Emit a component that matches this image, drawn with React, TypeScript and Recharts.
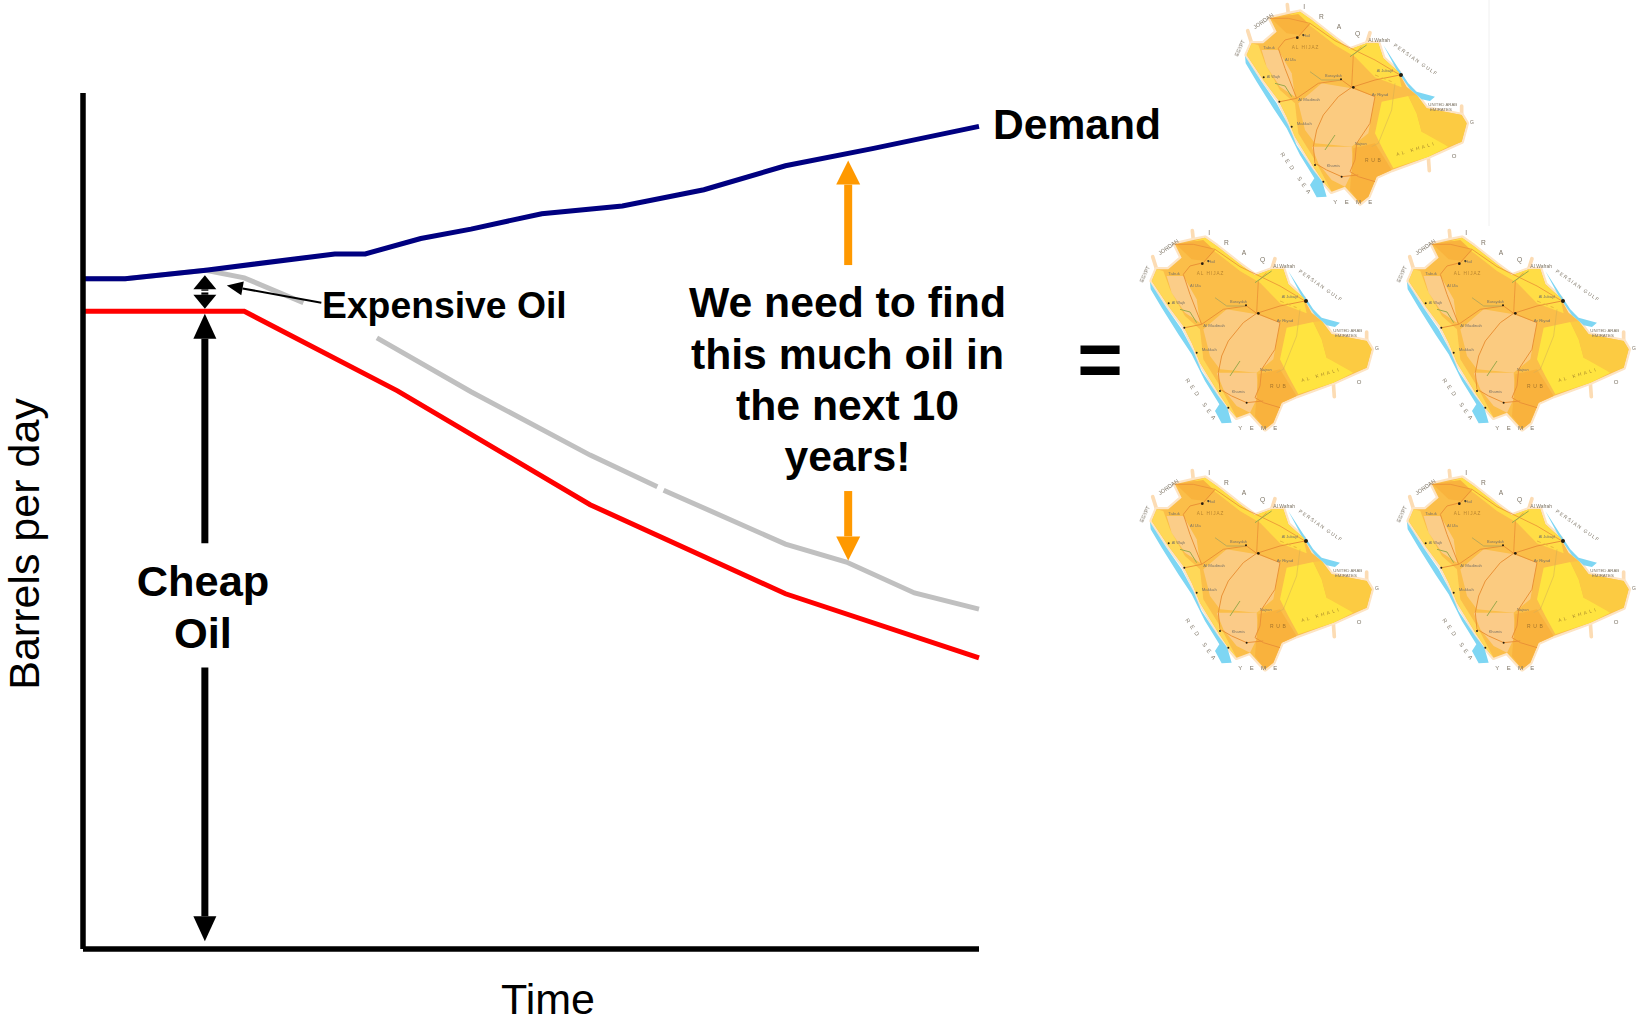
import { LineChart, Line, XAxis, YAxis, ReferenceLine } from 'recharts';

const demandTime = [0, 4.7, 13.7, 28.1, 31.5, 37.7, 43.3, 51.2, 60.2, 69.3, 78.4, 88.1, 100];
const demandValues = [78.3, 78.3, 79.3, 81.2, 81.2, 83, 84.1, 85.9, 86.8, 88.7, 91.5, 93.5, 96.1];

const cheapTime = [0, 18, 35.1, 56.6, 78.4, 100];
const cheapValues = [74.5, 74.5, 65.2, 51.9, 41.5, 34];

// null = the places where the grey line is broken in the original slide
const totalTime = [0, 4.7, 13.7, 18, 24.6, 28, 32.8, 43.3, 56.6, 64.1, 64.4, 64.8, 78.4, 85.2, 92.8, 100];
const totalValues = [78.3, 78.3, 79.3, 78.4, 75.5, null, 71.4, 65.1, 57.7, 54, null, 53.6, 47.3, 45.2, 41.6, 39.7];

const toRows = (time: number[], values: (number | null)[]) => time.map((t, i) => ({ time: t, value: values[i] }));

const questionLines = ['We need to find', 'this much oil in', 'the next 10', 'years!'];
const questionBaselines = [317, 369, 420, 471];
const mapOffsets = [[0, 0], [-95, 226], [162, 226], [-95, 466], [162, 466]];

const FONT = '"Liberation Sans", Arial, sans-serif';

const Arrow = ({ x1, y1, x2, y2, w, headW, headL, color }: any) => {
  const len = Math.hypot(x2 - x1, y2 - y1);
  const ux = (x2 - x1) / len;
  const uy = (y2 - y1) / len;
  const bx = x2 - ux * headL;
  const by = y2 - uy * headL;
  return (
    <g>
      <line x1={x1} y1={y1} x2={bx} y2={by} stroke={color} strokeWidth={w} />
      <polygon
        fill={color}
        points={`${x2},${y2} ${bx - (uy * headW) / 2},${by + (ux * headW) / 2} ${bx + (uy * headW) / 2},${by - (ux * headW) / 2}`}
      />
    </g>
  );
};

const arrow = (t1: number, v1: number, t2: number, v2: number, color: string, w: number, headW: number, headL: number) => (
  <ReferenceLine
    segment={[{ x: t1, y: v1 }, { x: t2, y: v2 }]}
    shape={(p: any) => <Arrow {...p} color={color} w={w} headW={headW} headL={headL} />}
  />
);

const LAND =
  'M105 55 L160 42 L195 35 L230 60 L300 115 L345 148 L395 130 L430 130 L445 175 L490 215 L515 260 L545 285 L575 325 L680 345 L695 370 L680 425 L580 470 L470 510 L425 530 L400 590 L375 610 L330 560 L290 575 L265 545 L235 500 L180 410 L155 350 L130 300 L85 240 L35 165 L50 130 L85 130 L125 95 Z';

// hand traced outline of the map picture, drawn three times smaller
const MapPicture = ({ dx, dy }: { dx: number; dy: number }) => (
  <g transform={`translate(${1235 + dx} ${dy}) scale(0.3333)`} filter="url(#mapSoft)">
    <path d="M50 130 L38 92 M160 42 L157 14 M395 130 L405 98 M680 345 L680 318 M580 470 L583 512" stroke="#fcdcb4" strokeWidth={11} fill="none" strokeLinecap="round" />
    <path d={LAND} fill="none" stroke="#fde4c4" strokeWidth={14} strokeLinejoin="round" />
    <path d="M30 168 L80 245 L125 310 L160 375 L185 435 L235 510 L262 545 L275 590 L245 592 L225 555 L238 535 L195 465 L155 385 L115 325 L65 245 L32 190 Z" fill="#7ed6f3" />
    <path d="M445 135 L490 205 L520 250 L545 275 L600 290 L585 303 L560 298 L525 268 L485 210 Z" fill="#7ed6f3" />
    <path d={LAND} fill="#fbbe48" />
    <path d="M195 35 L230 60 L300 115 L345 148 L395 130 L430 130 L445 175 L490 215 L500 262 L420 232 L360 170 L300 135 L230 80 L165 44 Z" fill="#ffdd45" />
    <path d="M35 165 L50 130 L70 135 L90 190 L135 270 L180 310 L190 400 L240 480 L290 575 L265 545 L235 500 L180 410 L155 350 L130 300 L85 240 Z" fill="#ffd858" />
    <path d="M440 305 L520 288 L545 340 L560 395 L610 415 L640 440 L580 470 L475 505 L445 450 L420 400 Z" fill="#ffe440" />
    <path d="M520 288 L545 285 L575 325 L680 345 L695 370 L680 425 L640 440 L560 395 L545 340 Z" fill="#fccb42" />
    <path d="M190 310 L260 250 L350 265 L420 290 L400 400 L350 440 L240 430 L210 390 Z" fill="#fbcb80" />
    <path d="M80 150 L130 150 L170 220 L180 290 L135 260 L95 200 Z" fill="#fbcd88" />
    <path d="M230 440 L350 440 L355 510 L330 560 L290 540 L250 490 Z" fill="#fbcb88" />
    <path d="M355 445 L420 430 L470 510 L425 530 L400 590 L375 610 L345 570 Z" fill="#f9b23e" />
    <path d="M108 55 L190 42 L225 75 L195 105 L155 100 Z" fill="#f9b33e" />
    <g fill="none" stroke="#ea9236" strokeWidth={3}>
      <path d="M105 55 L160 55 L225 70 L300 122 L420 180 L495 225" strokeWidth={2.5} />
      <path d="M225 70 L190 110 L150 120 L130 145 L150 205 L185 295 L135 305" />
      <path d="M185 295 L250 250 L320 240 L350 262 L420 240 L495 225" />
      <path d="M350 262 L310 290 L265 345 L245 390 L235 440 L240 490 L275 510 L320 530 L370 525" />
      <path d="M350 262 L420 290 L405 370 L365 430 L360 480 L345 515 L370 530 L420 545" />
      <path d="M380 140 L355 165 L350 262" strokeWidth={2.5} />
      <path d="M480 250 L470 330 L430 430 L410 440" stroke="#d2ac55" strokeWidth={1.5} />
      <path d="M120 250 L150 258 L170 290" stroke="#9aa94a" strokeWidth={3} />
      <path d="M225 215 L260 240 L315 240" stroke="#bca958" strokeWidth={3} />
      <path d="M300 405 L270 450" stroke="#9aa94a" strokeWidth={3} />
      <path d="M395 135 L345 170" stroke="#9aa94a" strokeWidth={3} />
      <path d="M420 225 L470 245" stroke="#e8b43a" strokeDasharray="12 10" />
    </g>
    <g fill="#201a10">
      <circle cx={187} cy={113} r={4} />
      <circle cx={205} cy={105} r={3} />
      <circle cx={355} cy={262} r={4} />
      <circle cx={318} cy={238} r={3} />
      <circle cx={498} cy={225} r={6} />
      <circle cx={133} cy={305} r={3} />
      <circle cx={86} cy={232} r={3} />
      <circle cx={170} cy={380} r={3} />
      <circle cx={240} cy={495} r={3} />
      <circle cx={320} cy={530} r={3} />
      <circle cx={265} cy={545} r={3} />
    </g>
    <g fill="#7d7465" fontFamily={FONT} fontSize={15}>
      <text x={60} y={88} transform="rotate(-35 60 88)" fontSize={17}>JORDAN</text>
      <text x={10} y={170} transform="rotate(-65 10 170)">EGYPT</text>
      <text x={205} y={28} fontSize={20}>I</text>
      <text x={252} y={58} fontSize={20}>R</text>
      <text x={305} y={88} fontSize={20}>A</text>
      <text x={360} y={108} fontSize={20}>Q</text>
      <text x={400} y={126}>Al Wafrah</text>
      <text x={475} y={138} transform="rotate(35 475 138)" letterSpacing={4}>PERSIAN GULF</text>
      <text x={580} y={318} fontSize={13}>UNITED ARAB</text>
      <text x={585} y={334} fontSize={13}>EMIRATES</text>
      <text x={135} y={462} transform="rotate(55 135 462)" fontSize={17} letterSpacing={12}>RED SEA</text>
      <text x={295} y={612} fontSize={18} letterSpacing={22}>YEME</text>
      <text x={705} y={372} fontSize={15}>G</text>
      <text x={650} y={475} fontSize={18}>O</text>
      <text x={170} y={148} fill="#b98530" fontSize={14} letterSpacing={3}>AL HIJAZ</text>
      <text x={85} y={148} fontSize={13}>Tabuk</text>
      <text x={205} y={112} fontSize={12}>Hail</text>
      <text x={270} y={230} fontSize={12}>Buraydah</text>
      <text x={150} y={182} fontSize={12}>Al Ula</text>
      <text x={95} y={235} fontSize={12}>Al Wajh</text>
      <text x={190} y={302} fontSize={13}>Al Madinah</text>
      <text x={185} y={375} fontSize={13}>Makkah</text>
      <text x={410} y={288} fontSize={13}>Ar Riyad</text>
      <text x={425} y={215} fontSize={12}>Al Jubayl</text>
      <text x={360} y={435} fontSize={12}>Najran</text>
      <text x={275} y={500} fontSize={12}>Khamis</text>
      <text x={390} y={485} fill="#a5742a" fontSize={15} letterSpacing={8}>RUB</text>
      <text x={485} y={468} fill="#a5842a" transform="rotate(-16 485 468)" fontSize={14} letterSpacing={8}>AL KHALI</text>
    </g>
  </g>
);

const BoldText = ({ x, y, size = 42, anchor = 'middle', children }: any) => (
  <text x={x} y={y} fontFamily={FONT} fontWeight="bold" fontSize={size} textAnchor={anchor} fill="#000">
    {children}
  </text>
);

export default function App() {
  return (
    <div style={{ position: 'absolute', left: 0, top: 0, width: 1648, height: 1024, background: '#fff' }}>
      <LineChart width={1648} height={1024} margin={{ top: 93, right: 669, bottom: 74, left: 82 }}>
        <defs>
          <filter id="mapSoft" x="-5%" y="-5%" width="110%" height="110%"><feGaussianBlur stdDeviation="2.2" /></filter>
        </defs>
        <XAxis
          type="number"
          dataKey="time"
          domain={[0, 100]}
          tick={false}
          tickLine={false}
          axisLine={{ stroke: '#000', strokeWidth: 5.5 }}
          height={1}
        />
        <YAxis
          type="number"
          domain={[0, 100]}
          tick={false}
          tickLine={false}
          axisLine={{ stroke: '#000', strokeWidth: 5.5 }}
          width={1}
        />
        <Line data={toRows(totalTime, totalValues)} dataKey="value" stroke="#C0C0C0" strokeWidth={5} dot={false} isAnimationActive={false} />
        <Line data={toRows(cheapTime, cheapValues)} dataKey="value" stroke="#FF0000" strokeWidth={5} dot={false} isAnimationActive={false} />
        <Line data={toRows(demandTime, demandValues)} dataKey="value" stroke="#000080" strokeWidth={5} dot={false} isAnimationActive={false} />

        {arrow(85.4, 79.9, 85.4, 92.1, '#FF9900', 8, 24, 24)}
        {arrow(85.4, 53.5, 85.4, 45.4, '#FF9900', 8, 24, 24)}
        {arrow(13.6, 76.9, 13.6, 78.7, '#000', 7, 23, 14)}
        {arrow(13.6, 76.7, 13.6, 74.8, '#000', 7, 23, 14)}
        {arrow(13.6, 47.4, 13.6, 74.2, '#000', 7, 23, 25)}
        {arrow(13.6, 32.9, 13.6, 0.9, '#000', 7, 23, 25)}
        {arrow(26.6, 75.5, 16.05, 77.5, '#000', 2, 14, 16)}

        <BoldText x={993} y={139} size={42.6} anchor="start">Demand</BoldText>
        <BoldText x={322} y={318} size={37.3} anchor="start">Expensive Oil</BoldText>
        {questionLines.map((line, i) => (
          <BoldText key={line} x={847.5} y={questionBaselines[i]} size={42.7}>{line}</BoldText>
        ))}
        <BoldText x={203} y={596} size={43.4}>Cheap</BoldText>
        <BoldText x={203} y={648} size={43.4}>Oil</BoldText>
        <BoldText x={1100} y={386} size={78}>=</BoldText>
        <text x={548} y={1014} fontFamily={FONT} fontSize={43} textAnchor="middle" fill="#000">Time</text>
        <text x={39} y={544} fontFamily={FONT} fontSize={43} textAnchor="middle" fill="#000" transform="rotate(-90 39 544)">Barrels per day</text>

        <line x1={1489} y1={0} x2={1489} y2={226} stroke="#f0f0f0" strokeWidth={1} />
        {mapOffsets.map(([dx, dy]) => (
          <MapPicture key={`${dx}-${dy}`} dx={dx} dy={dy} />
        ))}
      </LineChart>
    </div>
  );
}
